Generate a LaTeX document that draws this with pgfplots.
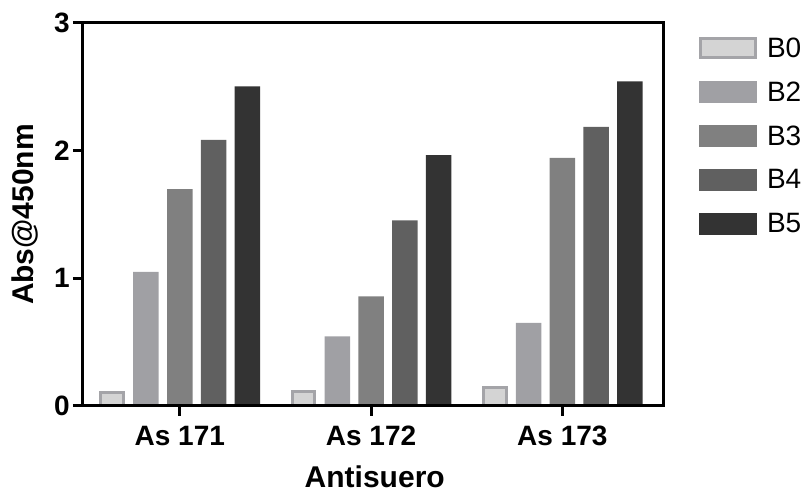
\documentclass[border=0pt]{standalone}
\usepackage{fontspec}
\setmainfont{Liberation Sans}
\usepackage{pgfplots}
\pgfplotsset{compat=1.18}
\definecolor{cB0}{HTML}{D4D4D4}
\definecolor{cB0e}{HTML}{A4A4A8}
\definecolor{cB2}{HTML}{A0A0A4}
\definecolor{cB3}{HTML}{808080}
\definecolor{cB4}{HTML}{606060}
\definecolor{cB5}{HTML}{333333}
\begin{document}
\begin{tikzpicture}
\begin{axis}[
  at={(0,0)}, anchor=south west,
  width=580pt, height=383pt, scale only axis,
  xmin=-0.506, xmax=2.526, ymin=0, ymax=3,
  ybar=8.3pt, bar width=25.5pt,
  axis on top,
  axis line style={line width=3pt},
  xtick={0,1,2}, xticklabels={As 171,As 172,As 173},
  ytick={0,1,2,3},
  tick align=outside, xtick pos=bottom, ytick pos=left,
  major tick length=10pt,
  every tick/.style={black, line width=3pt},
  /pgf/number format/assume math mode=true,
  xticklabel style={font=\bfseries\fontsize{28}{31}\selectfont, inner sep=0pt, yshift=-10pt},
  yticklabel style={font=\bfseries\fontsize{28}{31}\selectfont, inner sep=0pt, xshift=-3pt},
  xlabel={Antisuero}, ylabel={Abs@450nm},
  every axis x label/.style={at={(axis description cs:0.503,-0.2115)}, anchor=base, inner sep=0pt, font=\bfseries\fontsize{30}{34}\selectfont},
  every axis y label/.style={at={(axis description cs:-0.1,0.5)}, rotate=90, anchor=center, font=\bfseries\fontsize{30}{34}\selectfont},
  legend style={draw=none, fill=none, at={(1,1)}, anchor=north west, xshift=36pt, yshift=-14pt,
    inner sep=0pt, outer sep=0pt, row sep=22pt, column sep=10pt,
    font=\fontsize{28}{31}\selectfont, nodes={inner sep=0pt}},
  legend cell align=left,
]
\addplot[fill=cB0, draw=cB0e, line width=3pt, bar width=22.5pt, bar shift=-67.6pt,
  legend image code/.code={\draw[fill=cB0, draw=cB0e, line width=3pt] (1.5pt,-9.5pt) rectangle (56.5pt,9.5pt);}]
  coordinates {(0,0.105) (1,0.113) (2,0.147)};
\addplot[fill=cB2, draw=none,
  legend image code/.code={\fill[cB2] (0pt,-11pt) rectangle (58pt,11pt);}]
  coordinates {(0,1.051) (1,0.545) (2,0.652)};
\addplot[fill=cB3, draw=none,
  legend image code/.code={\fill[cB3] (0pt,-11pt) rectangle (58pt,11pt);}]
  coordinates {(0,1.698) (1,0.858) (2,1.943)};
\addplot[fill=cB4, draw=none,
  legend image code/.code={\fill[cB4] (0pt,-11pt) rectangle (58pt,11pt);}]
  coordinates {(0,2.084) (1,1.453) (2,2.186)};
\addplot[fill=cB5, draw=none,
  legend image code/.code={\fill[cB5] (0pt,-11pt) rectangle (58pt,11pt);}]
  coordinates {(0,2.504) (1,1.966) (2,2.543)};
\legend{B0,B2,B3,B4,B5}
\end{axis}
\pgfresetboundingbox
\useasboundingbox (-83pt,-86pt) rectangle (723pt,406pt);
\end{tikzpicture}
\end{document}
